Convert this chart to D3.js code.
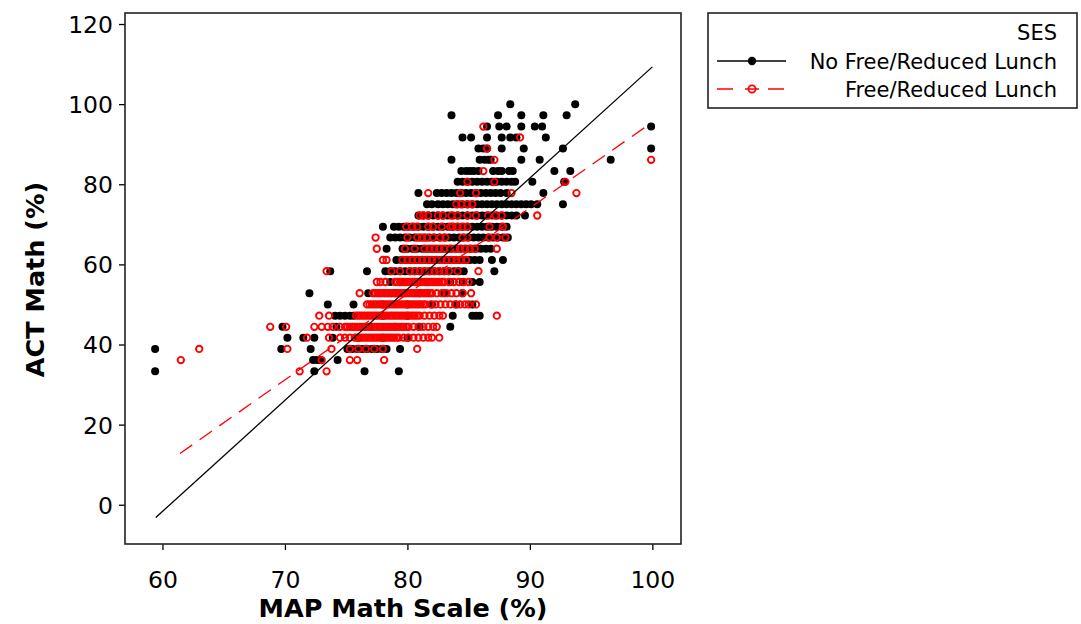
<!DOCTYPE html>
<html>
<head>
<meta charset="utf-8">
<script src="https://cdn.jsdelivr.net/npm/d3@7"></script>
<style>
  html, body { margin: 0; padding: 0; background: #fff; }
  svg { display: block; font-family: "DejaVu Sans", Verdana, sans-serif; }
</style>
</head>
<body>
<svg id="chart" width="1081" height="624"></svg>
<script>
// ---- Data ----
const xTicks = [60, 70, 80, 90, 100];
const yTicks = [0, 20, 40, 60, 80, 100, 120];
const seriesNames = ["No Free/Reduced Lunch", "Free/Reduced Lunch"];
const legendTitle = "SES";
const xTitle = "MAP Math Scale (%)";
const yTitle = "ACT Math (%)";

// rows: [ACT Math %, [MAP Math % values]]
const noLunchRows = [
  [100.0, [88.4, 93.7]],
  [97.2, [83.6, 87.4, 89.3, 91.1, 93.0]],
  [94.4, [86.5, 87.5, 88.1, 89.3, 90.4, 91.0, 99.9]],
  [91.7, [84.5, 85.2, 86.5, 87.7, 88.4, 88.9, 91.3]],
  [88.9, [85.8, 86.2, 86.5, 87.7, 89.5, 92.7, 99.9]],
  [86.1, [83.6, 85.9, 86.3, 86.6, 86.8, 89.3, 90.8, 96.6]],
  [83.3, [84.4, 84.8, 85.1, 85.4, 85.8, 87.0, 87.4, 87.7, 88.3, 88.6, 92.0, 93.3]],
  [80.6, [84.1, 84.5, 84.9, 85.3, 85.7, 86.1, 86.5, 86.9, 87.3, 87.7, 88.1, 88.5, 88.8, 90.2, 92.8]],
  [77.8, [80.9, 82.4, 82.8, 83.2, 83.6, 84.0, 84.4, 84.8, 85.2, 85.6, 86.0, 86.4, 86.8, 87.2, 87.6, 88.1, 91.1]],
  [75.0, [81.6, 82.0, 82.5, 82.9, 83.3, 83.7, 84.1, 84.5, 84.9, 85.3, 85.7, 86.1, 86.5, 86.9, 87.3, 87.7, 88.1, 88.5, 88.9, 89.3, 89.7, 90.1, 90.6, 92.7]],
  [72.2, [80.9, 81.3, 81.7, 82.1, 82.5, 82.9, 83.3, 83.7, 84.1, 84.5, 84.9, 85.3, 85.7, 86.1, 86.5, 86.9, 87.3, 87.7, 88.1, 88.5, 88.9, 89.6]],
  [69.4, [78.0, 78.9, 79.3, 79.7, 80.1, 80.5, 80.9, 81.3, 81.7, 82.1, 82.5, 82.9, 83.3, 83.7, 84.1, 84.5, 84.9, 85.3, 85.7, 86.1, 86.5, 86.9, 87.3, 87.7, 88.1]],
  [66.7, [78.6, 79.0, 79.4, 79.8, 80.2, 80.6, 81.0, 81.4, 81.8, 82.2, 82.6, 83.0, 83.4, 83.8, 84.2, 84.6, 85.0, 85.4, 85.8, 86.2, 86.6, 87.0, 87.4, 87.8, 88.2]],
  [63.9, [78.3, 79.6, 80.0, 80.4, 80.8, 81.2, 81.6, 82.0, 82.4, 82.8, 83.2, 83.6, 84.0, 84.4, 84.8, 85.2, 85.6, 86.0, 86.4, 86.8]],
  [61.1, [79.1, 79.5, 79.9, 80.3, 80.7, 81.1, 81.5, 81.9, 82.3, 82.7, 83.1, 83.5, 83.9, 84.3, 84.7, 85.1, 85.5, 85.9, 86.9, 87.8]],
  [58.3, [73.7, 76.7, 78.2, 78.6, 79.0, 79.4, 79.8, 80.2, 80.6, 81.0, 81.4, 81.8, 82.2, 82.6, 83.0, 83.4, 83.8, 84.2, 84.6, 87.1]],
  [55.6, [78.6, 79.5, 80.5, 81.5, 82.5, 83.5, 84.5, 85.3, 85.9]],
  [52.8, [72.0, 76.8, 79.0, 81.0, 83.0, 84.5]],
  [50.0, [73.5, 75.6, 78.0, 80.0, 82.0, 84.0, 85.3]],
  [47.2, [74.1, 74.5, 74.9, 75.3, 75.6, 78.0, 80.0, 83.7, 85.3, 85.6, 85.9]],
  [44.4, [69.8, 74.2, 77.0, 79.0, 81.0, 83.5]],
  [41.7, [70.2, 71.5, 72.4, 73.9, 76.0, 78.0, 80.0]],
  [38.9, [59.4, 69.7, 72.1, 75.1, 75.5, 75.9, 76.3, 76.7, 77.1, 77.5, 77.9, 78.3, 79.4]],
  [36.1, [72.3, 72.6, 72.9, 74.3]],
  [33.3, [59.4, 72.4, 76.5, 79.3]]
];

const lunchRows = [
  [94.4, [86.2]],
  [91.7, [89.2]],
  [88.9, [86.5]],
  [86.1, [87.1, 99.9]],
  [83.3, [86.2]],
  [80.6, [84.9, 87.1, 92.9]],
  [77.8, [81.7, 84.3, 85.6, 88.5, 93.8]],
  [75.0, [84.0, 84.4, 84.9, 85.3]],
  [72.2, [81.0, 81.3, 81.7, 82.5, 82.9, 83.6, 84.1, 84.9, 85.6, 86.6, 87.2, 87.7, 90.6]],
  [69.4, [79.9, 80.4, 80.8, 81.7, 82.1, 82.8, 83.5, 83.7, 84.1, 84.5, 84.9, 86.7, 87.8]],
  [66.7, [77.4, 80.0, 80.8, 81.2, 81.6, 82.1, 82.7, 83.1, 84.5, 84.9, 86.7, 87.3, 88.0]],
  [63.9, [77.5, 79.8, 80.6, 81.4, 81.8, 82.2, 82.6, 83.0, 83.5, 83.9, 84.3, 84.7, 85.1, 85.5, 87.3]],
  [61.1, [78.0, 78.3, 79.6, 80.0, 80.4, 80.8, 81.2, 81.6, 82.0, 82.4, 82.8, 83.2, 83.6, 84.0, 84.4, 84.8]],
  [58.3, [73.4, 78.7, 79.4, 80.2, 80.6, 81.0, 81.4, 81.8, 82.2, 82.6, 83.0, 83.4, 84.1, 85.8]],
  [55.6, [77.5, 77.8, 78.2, 79.0, 79.2, 79.4, 79.6, 79.8, 80.0, 80.2, 80.4, 80.6, 80.8, 81.0, 81.2, 81.4, 81.6, 81.8, 82.0, 82.2, 82.4, 82.6, 82.8, 83.0, 83.4, 83.8, 84.2, 84.6, 85.0]],
  [52.8, [76.1, 77.2, 77.4, 77.6, 77.8, 78.0, 78.2, 78.4, 78.6, 78.8, 79.0, 79.2, 79.4, 79.6, 79.8, 80.0, 80.2, 80.4, 80.6, 80.8, 81.0, 81.2, 81.4, 81.6, 81.8, 82.0, 82.4, 82.8, 83.2, 83.6, 84.0, 84.5, 85.2]],
  [50.0, [76.7, 76.9, 77.1, 77.3, 77.5, 77.7, 77.9, 78.1, 78.3, 78.5, 78.7, 78.9, 79.1, 79.3, 79.5, 79.7, 79.9, 80.1, 80.3, 80.5, 80.7, 80.9, 81.1, 81.3, 81.5, 81.9, 82.3, 82.7, 83.1, 83.5, 83.9, 84.3, 84.7, 85.0, 85.6]],
  [47.2, [72.8, 73.6, 75.8, 76.0, 76.2, 76.4, 76.6, 76.8, 77.0, 77.2, 77.4, 77.6, 77.8, 78.0, 78.2, 78.4, 78.6, 78.8, 79.0, 79.2, 79.4, 79.6, 79.8, 80.0, 80.2, 80.4, 80.6, 80.8, 81.0, 81.4, 81.8, 82.2, 82.6, 82.9, 87.3]],
  [44.4, [68.8, 70.1, 72.4, 73.0, 73.5, 73.9, 74.5, 74.9, 75.1, 75.3, 75.5, 75.7, 75.9, 76.1, 76.3, 76.5, 76.7, 76.9, 77.1, 77.3, 77.5, 77.7, 77.9, 78.1, 78.3, 78.5, 78.7, 78.9, 79.1, 79.3, 79.5, 79.7, 79.9, 80.1, 80.5, 80.9, 81.3, 81.7, 82.1, 82.4]],
  [41.7, [71.8, 73.6, 74.5, 74.9, 75.3, 75.7, 75.9, 76.1, 76.3, 76.5, 76.7, 76.9, 77.1, 77.3, 77.5, 77.7, 77.9, 78.1, 78.3, 78.5, 78.7, 78.9, 79.1, 79.3, 79.7, 80.1, 80.5, 80.9, 81.3, 81.7, 82.0, 82.6]],
  [38.9, [63.0, 70.2, 73.8, 75.3, 76.0, 76.6, 77.3, 78.0, 80.8]],
  [36.1, [61.5, 73.0, 75.3, 75.9, 78.1]],
  [33.3, [71.2, 73.4]]
];

// fitted regression lines: endpoints [MAP, ACT]
const noLunchFit = [[59.45, -3.2], [100.0, 109.3]];
const lunchFit = [[61.43, 12.8], [99.9, 95.3]];

// ---- Chart ----
const svg = d3.select("#chart");
const W = 1081, H = 624;
const plot = { left: 125, right: 681, top: 13, bottom: 544 };

const x = d3.scaleLinear().domain([56.94, 102.34]).range([plot.left, plot.right]);
const y = d3.scaleLinear().domain([-9.8, 122.75]).range([plot.bottom, plot.top]);

const flatten = rows => rows.flatMap(([act, maps]) => maps.map(m => ({ x: m, y: act })));
const noLunch = flatten(noLunchRows);
const lunch = flatten(lunchRows);

svg.append("rect").attr("width", W).attr("height", H).attr("fill", "#fff");

// axes
const xAxis = svg.append("g")
  .attr("transform", `translate(0,${plot.bottom})`)
  .call(d3.axisBottom(x).tickValues(xTicks).tickSize(6).tickSizeOuter(0).tickFormat(d3.format("d")));
const yAxis = svg.append("g")
  .attr("transform", `translate(${plot.left},0)`)
  .call(d3.axisLeft(y).tickValues(yTicks).tickSize(6).tickSizeOuter(0).tickFormat(d3.format("d")));
[xAxis, yAxis].forEach(g => {
  g.select(".domain").remove();
  g.selectAll(".tick line").attr("stroke", "#000").attr("stroke-width", 1.3);
  g.selectAll(".tick text").attr("fill", "#000")
    .style("font-family", "'DejaVu Sans', Verdana, sans-serif").style("font-size", "23.5px");
});
xAxis.selectAll(".tick text").attr("y", 0).attr("dy", null)
  .attr("transform", "translate(0,44)");
yAxis.selectAll(".tick text").attr("x", -12).attr("dy", "0.36em");

// frame
svg.append("rect")
  .attr("x", plot.left).attr("y", plot.top)
  .attr("width", plot.right - plot.left).attr("height", plot.bottom - plot.top)
  .attr("fill", "none").attr("stroke", "#222").attr("stroke-width", 1.6);

// points
const pts = svg.append("g");
pts.selectAll("circle.nl").data(noLunch).join("circle")
  .attr("class", "nl")
  .attr("cx", d => x(d.x)).attr("cy", d => y(d.y)).attr("r", 4)
  .attr("fill", "#000");
pts.selectAll("circle.fl").data(lunch).join("circle")
  .attr("class", "fl")
  .attr("cx", d => x(d.x)).attr("cy", d => y(d.y)).attr("r", 3.2)
  .attr("fill", "none").attr("stroke", "#ff0000").attr("stroke-width", 1.9);

// fit lines
const line = d3.line().x(d => x(d[0])).y(d => y(d[1]));
svg.append("path").datum(noLunchFit).attr("d", line)
  .attr("fill", "none").attr("stroke", "#000").attr("stroke-width", 1.3);
svg.append("path").datum(lunchFit).attr("d", line)
  .attr("fill", "none").attr("stroke", "#ff0000").attr("stroke-width", 1.3)
  .attr("stroke-dasharray", "15,9");

// axis titles
svg.append("text")
  .attr("x", (plot.left + plot.right) / 2).attr("y", 617)
  .attr("text-anchor", "middle")
  .style("font-size", "25.5px").style("font-weight", "bold")
  .text(xTitle);
svg.append("text")
  .attr("transform", `translate(44,${(plot.top + plot.bottom) / 2 + 1}) rotate(-90)`)
  .attr("text-anchor", "middle")
  .style("font-size", "25.5px").style("font-weight", "bold")
  .text(yTitle);

// legend
const lg = svg.append("g");
lg.append("rect").attr("x", 708).attr("y", 13).attr("width", 369).attr("height", 95)
  .attr("fill", "none").attr("stroke", "#222").attr("stroke-width", 1.6);
lg.append("text").attr("x", 1057).attr("y", 40).attr("text-anchor", "end")
  .style("font-size", "21px").text(legendTitle);
const legendItems = [
  { name: seriesNames[0], cy: 61, color: "#000", dash: null, filled: true },
  { name: seriesNames[1], cy: 89, color: "#ff0000", dash: "16,12,14,9", filled: false }
];
legendItems.forEach(it => {
  lg.append("line").attr("x1", 717).attr("x2", 786).attr("y1", it.cy).attr("y2", it.cy)
    .attr("stroke", it.color).attr("stroke-width", 1.3)
    .attr("stroke-dasharray", it.dash);
  lg.append("circle").attr("cx", 752).attr("cy", it.cy)
    .attr("r", it.filled ? 4.2 : 3.6)
    .attr("fill", it.filled ? it.color : "none")
    .attr("stroke", it.color).attr("stroke-width", it.filled ? 0 : 1.8);
  lg.append("text").attr("x", 1057).attr("y", it.cy + 7.5).attr("text-anchor", "end")
    .style("font-size", "21px").text(it.name);
});
</script>
</body>
</html>
